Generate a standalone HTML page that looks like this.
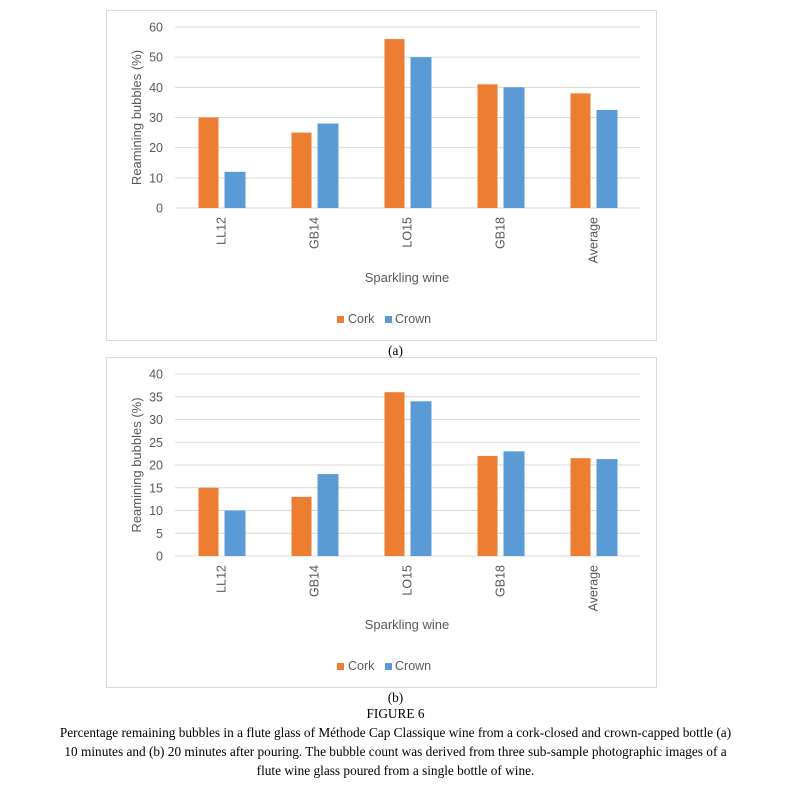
<!DOCTYPE html>
<html><head><meta charset="utf-8"><style>
body{margin:0;background:#fff;width:791px;height:799px;overflow:hidden;position:relative;font-family:"Liberation Serif",serif}
.cap{position:absolute;left:0;width:791px;text-align:center;font-size:13.3px;color:#000;line-height:19px}
</style></head><body>
<svg id="s" width="791" height="700" style="position:absolute;left:0;top:0" font-family="Liberation Sans, sans-serif"></svg>
<div class="cap" style="top:341px">(a)</div>
<div class="cap" style="top:688px">(b)</div>
<div class="cap" style="top:704px">FIGURE 6<br>Percentage remaining bubbles in a flute glass of Méthode Cap Classique wine from a cork-closed and crown-capped bottle (a)<br>10 minutes and (b) 20 minutes after pouring. The bubble count was derived from three sub-sample photographic images of a<br>flute wine glass poured from a single bottle of wine.</div>
<script>
const categories=["LL12","GB14","LO15","GB18","Average"];
const corkA=[30,25,56,41,38];
const crownA=[12,28,50,40,32.5];
const ticksA=[0,10,20,30,40,50,60];
const corkB=[15,13,36,22,21.5];
const crownB=[10,18,34,23,21.3];
const ticksB=[0,5,10,15,20,25,30,35,40];
const svg=document.getElementById('s');
const NS='http://www.w3.org/2000/svg';
function el(t,a,p){const e=document.createElementNS(NS,t);for(const k in a)e.setAttribute(k,a[k]);(p||svg).appendChild(e);return e;}
function chart(top,y0,yTop,ticks,cork,crown,tag){
  const g=el('g',{});
  
  
  const fr=el('rect',{x:106.5,y:top+0.5,width:550,height:330,fill:'#fff',stroke:'#d9d9d9'},g);
  
  
  const x0=175,x1=640,max=ticks[ticks.length-1];
  const ys=v=>y0-(v/max)*(y0-yTop);
  ticks.forEach(t=>{
    const l=el('line',{x1:x0,x2:x1,y1:ys(t),y2:ys(t),stroke:'#d9d9d9','stroke-width':1},g);
    
    
    const tx=el('text',{x:163,y:ys(t)+4.5,'text-anchor':'end','font-size':12.5,fill:'#595959'},g);
    tx.textContent=t;
    
    
  });
  const gw=(x1-x0)/categories.length;
  categories.forEach((c,i)=>{
    const cx=x0+gw*(i+0.5);
    const b1=el('rect',{x:cx-23,y:ys(cork[i]),width:20,height:y0-ys(cork[i]),fill:'#ed7d31'},g);
    
    
    const b2=el('rect',{x:cx+3,y:ys(crown[i]),width:21,height:y0-ys(crown[i]),fill:'#5b9bd5'},g);
    
    
    const t=el('text',{x:0,y:0,'text-anchor':'end','font-size':12.5,fill:'#595959',transform:`translate(${cx+4},${y0+9}) rotate(-90)`},g);
    t.textContent=c;
    
    
  });
  const yt=el('text',{x:0,y:0,'text-anchor':'middle','font-size':13,fill:'#595959',transform:`translate(${141},${(y0+yTop)/2}) rotate(-90)`},g);
  yt.textContent='Reamining bubbles (%)';
  
  
  const xt=el('text',{x:407,y:top+272,'text-anchor':'middle','font-size':13,fill:'#595959'},g);
  xt.textContent='Sparkling wine';
  
  
  const ly=top+313;
  const s1=el('rect',{x:337,y:ly-7,width:7,height:7,fill:'#ed7d31'},g);
  
  
  const l1=el('text',{x:348,y:ly,'font-size':12.5,fill:'#595959'},g);
  l1.textContent='Cork';
  
  
  const s2=el('rect',{x:385,y:ly-7,width:7,height:7,fill:'#5b9bd5'},g);
  
  
  const l2=el('text',{x:395,y:ly,'font-size':12.5,fill:'#595959'},g);
  l2.textContent='Crown';
  
  
}
chart(10,208,27,ticksA,corkA,crownA,'a');
chart(357,556,374,ticksB,corkB,crownB,'b');
</script>
</body></html>
